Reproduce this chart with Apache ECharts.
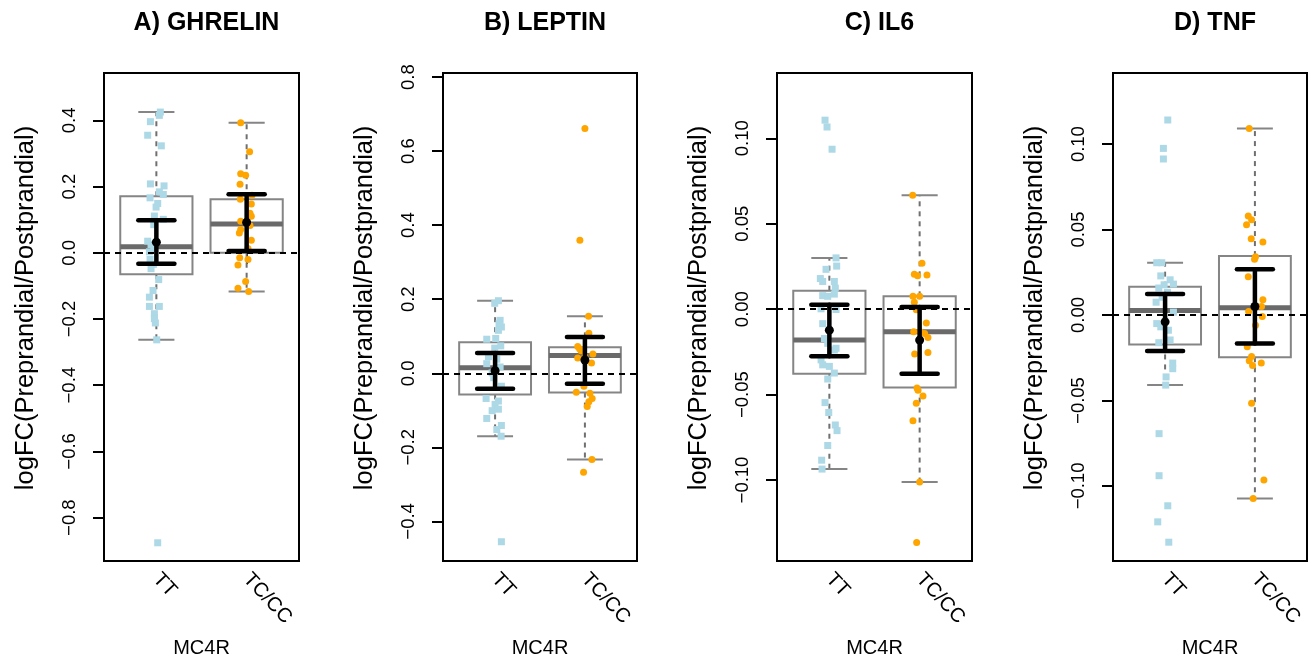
<!DOCTYPE html>
<html><head><meta charset="utf-8">
<script src="https://cdn.jsdelivr.net/npm/echarts@6/dist/echarts.min.js"></script>
<style>html,body{margin:0;padding:0;background:#fff}#c{width:1316px;height:663px}</style>
</head><body><div id="c"></div>
<script>
// ---- Data ----
const groups = ['TT', 'TC/CC'];
const panelTitles = ['A) GHRELIN', 'B) LEPTIN', 'C) IL6', 'D) TNF'];

// GHRELIN
const ghrelinTT = [0.425,0.415,0.396,0.355,0.323,0.208,0.202,0.184,0.176,0.166,0.149,0.138,0.111,0.101,0.085,0.035,0.025,0.013,0.003,-0.020,-0.035,-0.048,-0.081,-0.114,-0.134,-0.162,-0.162,-0.184,-0.199,-0.212,-0.263,-0.876];
const ghrelinTTJit = [0.044,0.033,-0.066,-0.096,0.055,-0.066,0.085,0.033,0.077,-0.07,0.015,-0.003,-0.022,0.077,-0.029,-0.096,-0.059,-0.029,-0.077,-0.07,-0.033,-0.059,0.026,-0.037,-0.077,-0.077,0.033,-0.022,-0.022,-0.011,0.004,0.015];
const ghrelinTC = [0.393,0.305,0.239,0.234,0.207,0.174,0.162,0.147,0.119,0.110,0.095,0.082,0.070,0.060,0.038,0.013,-0.015,-0.020,-0.037,-0.087,-0.107,-0.117];
const ghrelinTCJit = [-0.066,0.033,-0.066,-0.011,-0.073,0.059,-0.07,0.052,0.037,0.052,-0.066,0.037,-0.066,-0.081,0.052,0.015,-0.077,0.015,-0.096,-0.011,-0.096,0.022];
const ghrelinBox = [[-0.263,-0.065,0.018,0.171,0.425],[-0.117,0.0,0.087,0.162,0.393]];
const ghrelinMeanCI = [[0.032,-0.033,0.098],[0.092,0.005,0.177]];
const ghrelinTicks = [-0.8,-0.6,-0.4,-0.2,0,0.2,0.4];

// LEPTIN
const leptinTT = [0.196,0.189,0.143,0.134,0.125,0.116,0.092,0.094,0.074,0.068,0.045,0.038,0.026,0.017,0.001,-0.012,-0.035,-0.068,-0.075,-0.084,-0.101,-0.097,-0.122,-0.141,-0.152,-0.170,-0.455];
const leptinTTJit = [0.037,-0.004,0.056,0.044,0.07,0.037,-0.093,0.007,0.063,-0.004,-0.074,0.019,-0.093,0.056,-0.033,-0.015,0.07,-0.1,0.037,0,-0.033,0.037,-0.093,0.07,0.019,0.067,0.07];
const leptinTC = [0.661,0.359,0.154,0.108,0.072,0.066,0.061,0.052,0.045,0.041,0.028,-0.035,-0.051,-0.054,-0.068,-0.077,-0.090,-0.233,-0.267];
const leptinTCJit = [0.0,-0.056,0.041,0.044,-0.08,-0.06,-0.043,0.089,0.0,-0.08,0.074,-0.011,-0.096,0.056,0.081,0.044,0.026,0.078,-0.015];
const leptinBox = [[-0.170,-0.057,0.015,0.084,0.196],[-0.233,-0.052,0.048,0.070,0.154]];
const leptinMeanCI = [[0.007,-0.042,0.055],[0.036,-0.028,0.098]];
const leptinTicks = [-0.4,-0.2,0,0.2,0.4,0.6,0.8];

// IL6
const il6TT = [0.1106,0.1066,0.0936,0.030,0.0252,0.0233,0.0179,0.0162,0.0162,0.0123,0.0079,0.0075,0.0088,0.0002,-0.0002,-0.0085,-0.0172,-0.0200,-0.0229,-0.0239,-0.0297,-0.0326,-0.0335,-0.0374,-0.0409,-0.0547,-0.0605,-0.0678,-0.0711,-0.0798,-0.0884,-0.0936];
const il6TTJit = [-0.048,-0.026,0.03,0.074,0.081,-0.037,-0.1,-0.074,0.055,0.066,-0.074,-0.018,0.055,-0.092,0.074,-0.074,-0.055,-0.018,0.074,0.055,-0.092,-0.074,0,0.055,-0.018,-0.048,-0.007,0.066,0.085,-0.018,-0.085,-0.081];
const il6TC = [0.0667,0.0268,0.0204,0.0195,0.0200,0.0075,0.0075,0.004,-0.0004,-0.0081,-0.0133,-0.0133,-0.0143,-0.0166,-0.0262,-0.0254,-0.0461,-0.0474,-0.0509,-0.0551,-0.0653,-0.1012,-0.1366];
const il6TCJit = [-0.077,0.026,-0.059,-0.022,0.081,-0.074,0,-0.059,-0.037,0.074,-0.066,0.007,0.055,0.092,-0.055,0.092,-0.029,-0.018,0.037,-0.037,-0.074,0,-0.033];
const il6Box = [[-0.0936,-0.0378,-0.0181,0.0108,0.030],[-0.1012,-0.0459,-0.0133,0.0075,0.0667]];
const il6MeanCI = [[-0.0123,-0.0276,0.0025],[-0.0181,-0.0378,0.0012]];
const il6Ticks = [-0.10,-0.05,0,0.05,0.10];

// TNF
const tnfTT = [0.1141,0.0975,0.0913,0.0306,0.0306,0.0229,0.0206,0.0181,0.0177,0.0158,0.0133,0.0104,0.0075,0.0017,-0.0050,-0.0069,-0.0089,-0.0146,-0.0162,-0.0281,-0.0314,-0.0362,-0.0410,-0.0694,-0.0940,-0.1116,-0.1210,-0.1329];
const tnfTTJit = [0.03,-0.019,-0.019,-0.093,-0.037,-0.048,0.056,0.093,-0.011,-0.07,0.026,-0.033,-0.1,0.093,-0.093,-0.048,0.037,0.056,-0.07,0.085,0.085,0.011,0.007,-0.067,-0.067,0.03,-0.082,0.041];
const tnfTC = [0.1091,0.0580,0.0557,0.0528,0.0447,0.0428,0.0341,0.0326,0.0224,0.0089,0.0050,0.0021,-0.0008,-0.0060,-0.0185,-0.0243,-0.0268,-0.0295,-0.0281,-0.0516,-0.0965,-0.1073];
const tnfTCJit = [-0.063,-0.074,-0.037,-0.093,-0.041,0.089,0.007,-0.004,-0.074,0.089,0.074,-0.07,0.082,0.007,-0.085,-0.037,-0.063,-0.026,0.071,-0.037,0.1,-0.019];
const tnfBox = [[-0.0410,-0.0172,0.0027,0.0166,0.0306],[-0.1073,-0.0247,0.0042,0.0345,0.1091]];
const tnfMeanCI = [[-0.0040,-0.0210,0.0123],[0.0050,-0.0166,0.0268]];
const tnfTicks = [-0.10,-0.05,0,0.05,0.10];

// ---- Layout ----
const FONT = 'Liberation Sans, Arial, Helvetica, sans-serif';
const panels = [
  {left:104, width:195, min:-0.931, max:0.543, ticks:ghrelinTicks, dec:1, tt:ghrelinTT, ttJ:ghrelinTTJit, tc:ghrelinTC, tcJ:ghrelinTCJit, box:ghrelinBox, ci:ghrelinMeanCI},
  {left:443, width:194, min:-0.507, max:0.811, ticks:leptinTicks, dec:1, tt:leptinTT, ttJ:leptinTTJit, tc:leptinTC, tcJ:leptinTCJit, box:leptinBox, ci:leptinMeanCI},
  {left:777, width:195, min:-0.1474, max:0.1382, ticks:il6Ticks, dec:2, tt:il6TT, ttJ:il6TTJit, tc:il6TC, tcJ:il6TCJit, box:il6Box, ci:il6MeanCI},
  {left:1113, width:194, min:-0.1439, max:0.1416, ticks:tnfTicks, dec:2, tt:tnfTT, ttJ:tnfTTJit, tc:tnfTC, tcJ:tnfTCJit, box:tnfBox, ci:tnfMeanCI}
];
const TOP = 73, HEIGHT = 494;

const option = {backgroundColor:'#fff', animation:false, title:[], grid:[], xAxis:[], yAxis:[], series:[]};

function line(p1, p2, style) {
  return {type:'line', shape:{x1:p1[0], y1:p1[1], x2:p2[0], y2:p2[1]}, style:style};
}

panels.forEach((p, i) => {
  option.title.push({text: panelTitles[i], left: p.left + p.width/2, top: 6, textAlign:'center',
    textStyle:{fontSize:25, fontWeight:'bold', fontFamily:FONT, color:'#000'}});
  option.grid.push({left:p.left, top:TOP, width:p.width, height:HEIGHT, show:true, borderColor:'#000', borderWidth:2, backgroundColor:'transparent'});
  option.xAxis.push({type:'value', gridIndex:i, min:0.42, max:2.58,
    name:'MC4R', nameLocation:'middle', nameGap:77,
    nameTextStyle:{fontSize:20, fontFamily:FONT, color:'#000'},
    axisLine:{show:false}, splitLine:{show:false},
    axisTick:{show:true, length:11, customValues:[1,2], lineStyle:{color:'#000', width:2}},
    axisLabel:{show:true, customValues:[1,2], rotate:-47, margin:15, fontSize:20, fontFamily:FONT, color:'#000',
      formatter: v => groups[Math.round(v)-1] || ''}});
  option.yAxis.push({type:'value', gridIndex:i, min:p.min, max:p.max,
    name:'logFC(Preprandial/Postprandial)', nameLocation:'middle', nameGap:65, nameRotate:90,
    nameTextStyle:{fontSize:25.5, fontFamily:FONT, color:'#000', padding:[0,0,0,18]},
    axisLine:{show:false}, splitLine:{show:false},
    axisTick:{show:true, length:11, customValues:p.ticks, lineStyle:{color:'#000', width:2}},
    axisLabel:{show:true, customValues:p.ticks, rotate:90, margin:25, fontSize:18.5, fontFamily:FONT, color:'#000',
      formatter: v => (v < -1e-9 ? '\u2212' : '') + Math.abs(v).toFixed(p.dec)}});

  // boxes
  option.series.push({type:'custom', xAxisIndex:i, yAxisIndex:i, z:2, silent:true,
    data: p.box.map((b, k) => [k+1].concat(b)),
    encode:{x:0, y:[1,2,3,4,5]},
    renderItem: (params, api) => {
      const x = api.value(0), mn = api.value(1), q1 = api.value(2), md = api.value(3), q3 = api.value(4), mx = api.value(5);
      const tl = api.coord([x-0.4, q3]), br = api.coord([x+0.4, q1]);
      const gray = '#858585';
      const dash = {stroke:'#707070', lineWidth:2, lineDash:[5,5], fill:null};
      const stap = {stroke:gray, lineWidth:2, fill:null};
      return {type:'group', children:[
        line(api.coord([x, q3]), api.coord([x, mx]), dash),
        line(api.coord([x, q1]), api.coord([x, mn]), dash),
        line(api.coord([x-0.2, mx]), api.coord([x+0.2, mx]), stap),
        line(api.coord([x-0.2, mn]), api.coord([x+0.2, mn]), stap),
        {type:'rect', shape:{x:tl[0], y:tl[1], width:br[0]-tl[0], height:br[1]-tl[1]}, style:{fill:null, stroke:gray, lineWidth:2}},
        line(api.coord([x-0.4, md]), api.coord([x+0.4, md]), {stroke:'#6a6a6a', lineWidth:5, fill:null})
      ]};
    },
    markLine:{silent:true, symbol:['none','none'], label:{show:false}, animation:false,
      lineStyle:{color:'#000', width:2, type:[6,5]}, data:[{yAxis:0}]}
  });
  // points
  option.series.push({type:'scatter', xAxisIndex:i, yAxisIndex:i, z:3, silent:true,
    symbol:'rect', symbolSize:7, itemStyle:{color:'#ADD8E6', opacity:1},
    data: p.tt.map((v, k) => [1 + p.ttJ[k], v])});
  option.series.push({type:'scatter', xAxisIndex:i, yAxisIndex:i, z:3, silent:true,
    symbol:'circle', symbolSize:7, itemStyle:{color:'#FFA500', opacity:1},
    data: p.tc.map((v, k) => [2 + p.tcJ[k], v])});
  // mean and CI
  option.series.push({type:'custom', xAxisIndex:i, yAxisIndex:i, z:4, silent:true,
    data: p.ci.map((c, k) => [k+1].concat(c)),
    encode:{x:0, y:[1,2,3]},
    renderItem: (params, api) => {
      const x = api.value(0), m = api.value(1), lo = api.value(2), hi = api.value(3);
      const st = {stroke:'#000', lineWidth:4.5, lineCap:'round', fill:null};
      const c = api.coord([x, m]);
      return {type:'group', children:[
        line(api.coord([x, lo]), api.coord([x, hi]), st),
        line(api.coord([x-0.2, hi]), api.coord([x+0.2, hi]), st),
        line(api.coord([x-0.2, lo]), api.coord([x+0.2, lo]), st),
        {type:'circle', shape:{cx:c[0], cy:c[1], r:4.5}, style:{fill:'#000', stroke:null}}
      ]};
    }
  });
});

const chart = echarts.init(document.getElementById('c'), null, {renderer:'canvas'});
chart.setOption(option);
</script></body></html>
